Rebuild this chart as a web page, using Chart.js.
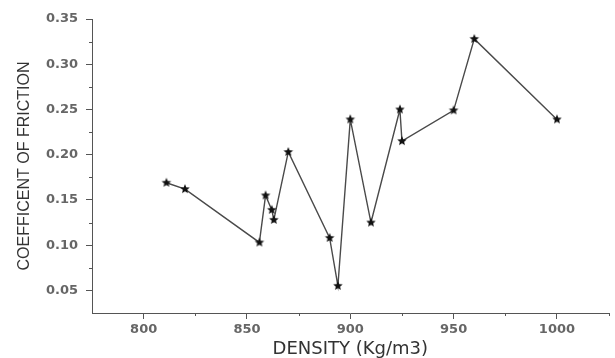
<!DOCTYPE html>
<html>
<head>
<meta charset="utf-8">
<script src="https://cdn.jsdelivr.net/npm/chart.js@4.4.0/dist/chart.umd.min.js"></script>
<style>
html,body{margin:0;padding:0;background:#fff;}
</style>
</head>
<body>
<canvas id="friction_chart" width="615" height="358"></canvas>
<script>
// density (x) vs coefficient of friction (y)
const density = [811, 820, 856, 859, 862, 863, 870, 890, 894, 900, 910, 924, 925, 950, 960, 1000];
const friction = [0.169, 0.162, 0.103, 0.155, 0.139, 0.128, 0.203, 0.108, 0.055, 0.239, 0.125, 0.250, 0.215, 0.249, 0.328, 0.239];

// axis ticks (major with labels, minor without)
const xTicks = [800, 850, 900, 950, 1000];
const xMinor = [825, 875, 925, 975, 1025];
const yTicks = [0.05, 0.10, 0.15, 0.20, 0.25, 0.30, 0.35];
const yMinor = [0.075, 0.125, 0.175, 0.225, 0.275, 0.325];

// filled 5 point star used as marker
function makeStar(r) {
    const c = document.createElement('canvas');
    const s = Math.ceil(r * 2 + 2);
    c.width = c.height = s;
    const g = c.getContext('2d');
    g.fillStyle = '#111';
    g.beginPath();
    for (let i = 0; i < 10; i++) {
        const a = -Math.PI / 2 + i * Math.PI / 5;
        const rr = i % 2 ? r * 0.45 : r;
        g.lineTo(s / 2 + rr * Math.cos(a), s / 2 + rr * Math.sin(a));
    }
    g.closePath();
    g.fill();
    return c;
}
const star = makeStar(5);

// short minor tick marks on both axes
const minorTicks = {
    id: 'minorTicks',
    afterDraw(chart) {
        const ctx = chart.ctx, xs = chart.scales.x, ys = chart.scales.y;
        ctx.save();
        ctx.strokeStyle = '#555';
        ctx.lineWidth = 1;
        ctx.beginPath();
        xMinor.forEach(v => {
            const px = Math.round(xs.getPixelForValue(v)) + 0.5;
            ctx.moveTo(px, xs.top);
            ctx.lineTo(px, xs.top + 3);
        });
        yMinor.forEach(v => {
            const py = Math.round(ys.getPixelForValue(v)) + 0.5;
            ctx.moveTo(ys.right - 3, py);
            ctx.lineTo(ys.right, py);
        });
        ctx.stroke();
        ctx.restore();
    }
};

const tickFont = {family: 'DejaVu Sans', size: 13, weight: 'bold'};

const friction_chart = new Chart(document.getElementById('friction_chart'), {
    type: 'scatter',
    data: {
        datasets: [{
            data: density.map((d, i) => ({x: d, y: friction[i]})),
            showLine: true,
            borderColor: '#4a4a4a',
            borderWidth: 1.4,
            pointStyle: star,
            pointRadius: 5,
            fill: false
        }]
    },
    options: {
        responsive: false,
        animation: false,
        devicePixelRatio: 1,
        layout: {padding: {top: 19, right: 5, left: 0, bottom: 0}},
        plugins: {legend: {display: false}, tooltip: {enabled: false}},
        scales: {
            x: {
                type: 'linear',
                min: 775,
                max: 1025,
                afterBuildTicks: s => { s.ticks = xTicks.map(v => ({value: v})); },
                afterFit: s => { s.height = 45; },
                border: {color: '#555', width: 1},
                grid: {drawOnChartArea: false, tickLength: 6, tickColor: '#555'},
                ticks: {color: '#666', font: tickFont, padding: 3, maxRotation: 0, callback: v => String(v)},
                title: {
                    display: true,
                    text: 'DENSITY (Kg/m3)',
                    color: '#333',
                    font: {family: 'DejaVu Sans', size: 18, lineHeight: 1},
                    padding: {top: 0, bottom: 0}
                }
            },
            y: {
                min: 0.025,
                max: 0.35,
                afterBuildTicks: s => { s.ticks = yTicks.map(v => ({value: v})); },
                afterFit: s => { s.width = 92; },
                border: {color: '#555', width: 1},
                grid: {drawOnChartArea: false, tickLength: 6, tickColor: '#555'},
                ticks: {color: '#666', font: tickFont, padding: 8, callback: v => v.toFixed(2)},
                title: {
                    display: true,
                    text: 'COEFFICENT OF FRICTION',
                    color: '#333',
                    font: {family: 'Liberation Sans', size: 16},
                    padding: {top: 15, bottom: 0}
                }
            }
        }
    },
    plugins: [minorTicks]
});
</script>
</body>
</html>
